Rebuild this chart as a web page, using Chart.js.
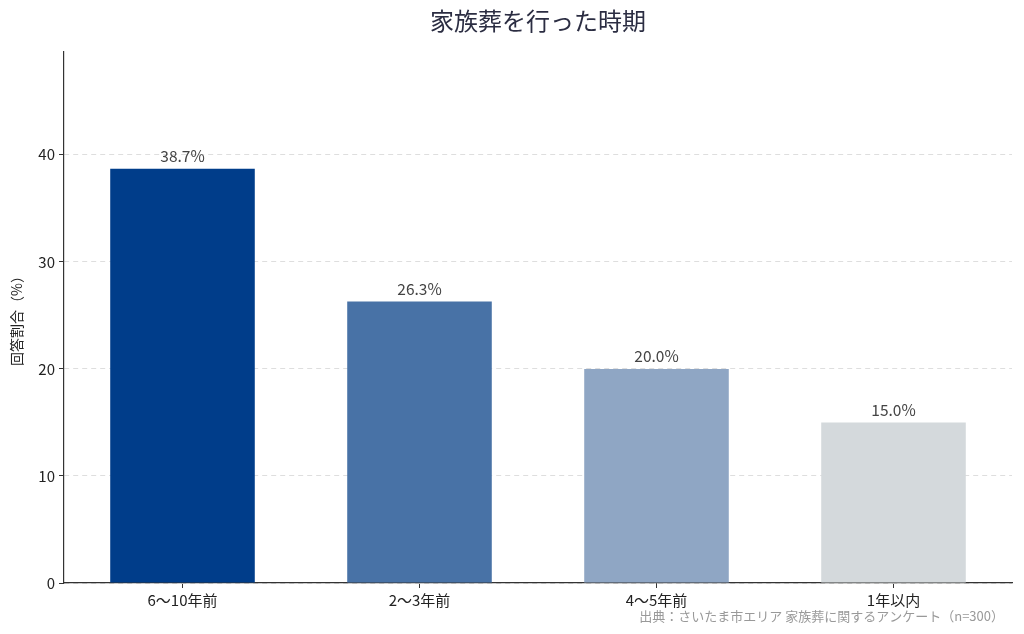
<!DOCTYPE html>
<html>
<head>
<meta charset="utf-8">
<script src="https://cdn.jsdelivr.net/npm/chart.js@4/dist/chart.umd.min.js"></script>
<style>
  html, body { margin: 0; padding: 0; background: #fff; }
  #wrap { width: 1024px; height: 634px; }
</style>
</head>
<body>
<div id="wrap"><canvas id="periodChart"></canvas></div>
<script>
const FONT = "'Noto Sans CJK JP', 'Noto Sans', sans-serif";

// Data
const categories = ['6〜10年前', '2〜3年前', '4〜5年前', '1年以内'];
const shares = [38.7, 26.3, 20.0, 15.0];
const barColors = ['#003d8a', '#4872a6', '#8fa6c4', '#d4d9dc'];
const yTicks = [0, 10, 20, 30, 40];
const chartTitle = '家族葬を行った時期';
const sourceNote = '出典：さいたま市エリア 家族葬に関するアンケート（n=300）';

// title over plot area, value labels above bars, source note
const labelPlugin = {
  id: 'labels',
  afterDatasetsDraw(chart) {
    const ctx = chart.ctx;
    const area = chart.chartArea;
    const meta = chart.getDatasetMeta(0);
    ctx.save();
    ctx.font = '24px ' + FONT;
    ctx.fillStyle = '#2b2d42';
    ctx.textAlign = 'center';
    ctx.textBaseline = 'middle';
    ctx.fillText(chartTitle, (area.left + area.right) / 2, 21);

    ctx.font = '15.5px ' + FONT;
    ctx.fillStyle = '#444';
    ctx.textBaseline = 'bottom';
    meta.data.forEach((bar, i) => {
      ctx.fillText(shares[i].toFixed(1) + '%', bar.x, bar.y - 5);
    });

    ctx.font = '13px ' + FONT;
    ctx.fillStyle = '#999';
    ctx.textAlign = 'right';
    ctx.textBaseline = 'middle';
    ctx.fillText(sourceNote, 1004, 616);
    ctx.restore();
  }
};

const ctx = document.getElementById('periodChart').getContext('2d');

new Chart(ctx, {
  type: 'bar',
  data: {
    labels: categories,
    datasets: [{
      data: shares,
      backgroundColor: barColors,
      borderWidth: 0,
      categoryPercentage: 1,
      barPercentage: 0.61,
    }],
  },
  options: {
    responsive: true,
    maintainAspectRatio: false,
    animation: false,
    layout: { padding: { left: 0, right: 12, top: 52, bottom: 0 } },
    plugins: {
      legend: { display: false },
      tooltip: { enabled: false },
      title: { display: false },
    },
    scales: {
      x: {
        offset: true,
        grid: { drawOnChartArea: false, offset: false, tickColor: '#333', tickLength: 5 },
        border: { color: '#333', width: 1.2 },
        ticks: { color: '#222', font: { family: FONT, size: 15 }, padding: 3 },
        afterFit(scale) { scale.height = 51; },
      },
      y: {
        min: 0,
        max: 49.6,
        afterBuildTicks(scale) { scale.ticks = yTicks.map(v => ({ value: v })); },
        grid: { color: '#dedede', tickColor: '#333', tickLength: 5 },
        border: { color: '#333', width: 1.2, dash: [5, 4] },
        ticks: { color: '#222', font: { family: FONT, size: 15 }, padding: 4 },
        title: {
          display: true,
          text: '回答割合（%）',
          color: '#222',
          font: { family: FONT, size: 14 },
          padding: { top: 8, bottom: 0 },
        },
        afterFit(scale) { scale.width = 64; },
      },
    },
  },
  plugins: [labelPlugin],
});
</script>
</body>
</html>
